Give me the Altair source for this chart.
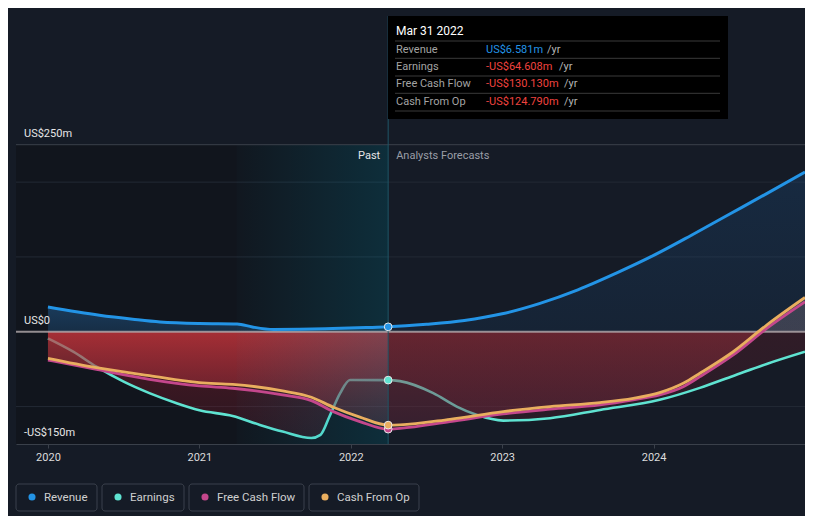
import altair as alt
import pandas as pd

# ---------------- data ----------------
SERIES = ["Revenue", "Earnings", "Free Cash Flow", "Cash From Op"]
COLORS = ["#2394e6", "#5fe3d1", "#c4478c", "#e9ae5f"]

MARK_X = 2022.247          # Mar 31 2022
X_MIN, X_MAX = 2019.789, 2025.0
Y_MIN, Y_MAX = -150, 422
YEAR_TICKS = [2020, 2021, 2022, 2023, 2024]
GRID_Y = [200, 100, -100]
Y_LABEL_VALUES = [250, 0, -150]
Y_LABELS = ["US$250m", "US$0", "-US$150m"]

rev_past_x = [2020.0, 2020.34, 2020.56, 2020.74, 2021.0, 2021.25, 2021.35, 2021.49, 2021.66, 2021.88, 2022.10, 2022.247]
rev_past_y = [33, 22, 16.7, 13, 11, 10.5, 6.4, 3, 3.3, 4.3, 5.6, 6.581]
rev_fc_x = [2022.247, 2022.5, 2022.75, 2023.0, 2023.25, 2023.5, 2023.75, 2024.0, 2024.25, 2024.5, 2024.75, 2025.0]
rev_fc_y = [6.581, 10, 15, 24, 38, 56, 78, 102, 129, 157, 185, 213.5]

earn_past_x = [2020.0, 2020.167, 2020.32, 2020.50, 2020.67, 2020.85, 2021.0, 2021.22, 2021.40, 2021.55, 2021.74, 2021.80, 2021.86, 2021.93, 2021.995, 2022.247]
earn_past_y = [-8.9, -26.7, -46.7, -66.7, -82, -95.5, -105, -112.5, -124.5, -133.4, -142, -137.8, -113, -82, -64.4, -64.608]
earn_fc_x = [2022.247, 2022.325, 2022.545, 2022.70, 2022.83, 2023.007, 2023.316, 2023.646, 2024.04, 2024.306, 2024.526, 2024.747, 2025.0]
earn_fc_y = [-64.608, -66, -82, -100, -111, -118.7, -115.5, -104.5, -91, -75, -59, -43, -26.7]

cf_past_x = [2020.0, 2020.32, 2020.67, 2021.0, 2021.22, 2021.55, 2021.74, 2021.885, 2022.06, 2022.247]
fcf_past_y = [-37.8, -50.2, -63.5, -72.4, -75.5, -84.4, -92, -106.7, -120, -130.13]
cfo_past_y = [-35.5, -48, -58.7, -68, -70.3, -79, -87.5, -100.9, -114, -124.79]
cf_fc_x = [2022.247, 2022.325, 2022.655, 2023.007, 2023.316, 2023.646, 2023.866, 2024.04, 2024.196, 2024.306, 2024.526, 2024.747, 2025.0]
fcf_fc_y = [-130.13, -129, -120, -109.8, -103.5, -97.8, -91, -84.4, -73.4, -60, -31, 4.5, 40]
cfo_fc_y = [-124.79, -124.5, -117, -106.7, -100, -94.7, -89, -81.4, -68.9, -55.5, -26.7, 9, 45.9]

TIP_DATE = "Mar 31 2022"
TIP_VALUES = ["US$6.581m", "-US$64.608m", "-US$130.130m", "-US$124.790m"]
TIP_VALUE_COLORS = ["#2394e6", "#f0433f", "#f0433f", "#f0433f"]
TIP_UNIT = "/yr"
PAST_LABEL = "Past"
FORECAST_LABEL = "Analysts Forecasts"

FONT = "Roboto"
W, H = 789, 428

# ---------------- helpers ----------------
xs = alt.Scale(domain=[X_MIN, X_MAX], nice=False, zero=False)
ys = alt.Scale(domain=[Y_MIN, Y_MAX], nice=False, zero=False)
xaxis = alt.Axis(values=YEAR_TICKS, format="d", title=None, grid=False,
                 labelColor="#dcdcdc", labelFontSize=11, labelFont=FONT,
                 tickColor="#3a404a", tickSize=4, domainColor="#3a404a",
                 labelPadding=3)


def X(f="x"):
    return alt.X(f"{f}:Q", scale=xs, axis=xaxis)


def Y(f="y"):
    return alt.Y(f"{f}:Q", scale=ys, axis=None)


def df(xv, yv):
    return pd.DataFrame({"x": xv, "y": yv})


def vgrad(stops):
    return alt.LinearGradient(gradient="linear", x1=0, x2=0, y1=0, y2=1,
                              stops=[alt.GradientStop(offset=o, color=c) for o, c in stops])


def hgrad(stops):
    return alt.LinearGradient(gradient="linear", x1=0, x2=1, y1=0, y2=0,
                              stops=[alt.GradientStop(offset=o, color=c) for o, c in stops])


def area(data, color):
    return alt.Chart(data).mark_area(color=color, interpolate="monotone").encode(
        x=X(), y=Y(), y2=alt.Y2("z:Q"))


def with_zero(d):
    d = d.copy()
    d["z"] = 0
    return d


def line(data, color, w=2.6):
    return alt.Chart(data).mark_line(color=color, strokeWidth=w, interpolate="monotone").encode(x=X(), y=Y())


layers = []

# background zones
past_bg = pd.DataFrame({"x": [X_MIN], "x2": [MARK_X], "y": [250], "y2": [-150]})
layers.append(alt.Chart(past_bg).mark_rect(color="#11151d").encode(
    x=X(), x2=alt.X2("x2:Q"), y=Y(), y2=alt.Y2("y2:Q")))

# faint grid
layers.append(alt.Chart(pd.DataFrame({"y": GRID_Y})).mark_rule(color="#232a35", strokeWidth=1).encode(y=Y()))

# earnings fill
layers.append(area(with_zero(df(earn_past_x, earn_past_y)),
                   vgrad([(0, "rgba(150,30,45,0.45)"), (1, "rgba(110,25,40,0.28)")])))
layers.append(area(with_zero(df(earn_fc_x, earn_fc_y)),
                   vgrad([(0, "rgba(110,30,42,0.30)"), (1, "rgba(100,30,45,0.26)")])))

# earnings line (under cash flow fill)
earn_all = df(earn_past_x + earn_fc_x[1:], earn_past_y + earn_fc_y[1:])
layers.append(line(earn_all, COLORS[1]))

# cash from op fill
layers.append(area(with_zero(df(cf_past_x, cfo_past_y)),
                   vgrad([(0, "rgba(200,55,60,0.72)"), (1, "rgba(140,40,55,0.35)")])))
layers.append(area(with_zero(df(cf_fc_x, cfo_fc_y)),
                   vgrad([(0, "rgba(125,105,112,0.42)"), (0.266, "rgba(125,105,112,0.42)"),
                          (0.272, "rgba(165,48,58,0.46)"), (1, "rgba(115,40,62,0.36)")])))

# revenue fill
layers.append(area(with_zero(df(rev_past_x, rev_past_y)),
                   vgrad([(0, "rgba(40,120,190,0.38)"), (1, "rgba(40,120,190,0.25)")])))
layers.append(area(with_zero(df(rev_fc_x, rev_fc_y)),
                   vgrad([(0, "rgba(30,95,160,0.22)"), (1, "rgba(30,95,160,0.12)")])))

# highlight of the last past year
hl = pd.DataFrame({"x": [MARK_X - 1.0], "x2": [MARK_X], "y": [250], "y2": [-150]})
layers.append(alt.Chart(hl).mark_rect(color=hgrad([(0, "rgba(0,140,170,0.02)"), (1, "rgba(0,140,170,0.21)")])).encode(
    x=X(), x2=alt.X2("x2:Q"), y=Y(), y2=alt.Y2("y2:Q")))

# zero line and top line
layers.append(alt.Chart(pd.DataFrame({"y": [0]})).mark_rule(color="#b4abae", strokeWidth=2, opacity=0.8).encode(y=Y()))
layers.append(alt.Chart(pd.DataFrame({"y": [250]})).mark_rule(color="#3a404a", strokeWidth=1).encode(y=Y()))

# vertical marker
layers.append(alt.Chart(pd.DataFrame({"x": [MARK_X]})).mark_rule(color="#1f5567", strokeWidth=1).encode(x=X()))

# other lines
layers.append(line(df(cf_past_x + cf_fc_x[1:], fcf_past_y + fcf_fc_y[1:]), COLORS[2], 2.8))
layers.append(line(df(cf_past_x + cf_fc_x[1:], cfo_past_y + cfo_fc_y[1:]), COLORS[3], 2.8))
layers.append(line(df(rev_past_x + rev_fc_x[1:], rev_past_y + rev_fc_y[1:]), COLORS[0], 3))

# dots at Mar 31 2022
dot_vals = [rev_past_y[-1], earn_past_y[-1], fcf_past_y[-1], cfo_past_y[-1]]
for i in [0, 1, 2, 3]:
    layers.append(alt.Chart(df([MARK_X], [dot_vals[i]])).mark_circle(
        color=COLORS[i], opacity=1, size=60, stroke="#e8e8e8", strokeWidth=1).encode(x=X(), y=Y()))

# y labels
ylab = pd.DataFrame({"y": Y_LABEL_VALUES, "t": Y_LABELS})
layers.append(alt.Chart(ylab).mark_text(align="left", baseline="middle", dy=-11, color="#e6e6e6",
                                        fontSize=11, font=FONT).encode(x=alt.value(8), y=Y(), text="t:N"))

# past / forecast labels
pf = pd.DataFrame({"x": [MARK_X]})
layers.append(alt.Chart(pf).mark_text(align="right", baseline="middle", dx=-8, color="#e6e6e6",
                                      fontSize=11, font=FONT, text=PAST_LABEL).encode(x=X(), y=alt.value(140)))
layers.append(alt.Chart(pf).mark_text(align="left", baseline="middle", dx=8, color="#9a9ea6",
                                      fontSize=11, font=FONT, text=FORECAST_LABEL).encode(x=X(), y=alt.value(140)))

# tooltip box
one = pd.DataFrame({"k": [0]})
layers.append(alt.Chart(one).mark_rect(color="#000000").encode(
    x=alt.value(372), x2=alt.value(712), y=alt.value(0), y2=alt.value(103)))
layers.append(alt.Chart(one).mark_text(align="left", baseline="middle", color="#ffffff", fontSize=12,
                                       font=FONT, text=TIP_DATE).encode(x=alt.value(380), y=alt.value(15)))
for sy in [25, 42.3, 60, 77.3, 95]:
    layers.append(alt.Chart(one).mark_rule(color="#3a3a3a", strokeWidth=1).encode(
        x=alt.value(379), x2=alt.value(704), y=alt.value(sy)))
row_y = [33.5, 50.7, 68.3, 85.7]
unit_x = [531, 543, 548, 548]
for i in range(4):
    layers.append(alt.Chart(one).mark_text(align="left", baseline="middle", color="#a3a3a3", fontSize=11,
                                           font=FONT, text=SERIES[i]).encode(x=alt.value(380), y=alt.value(row_y[i])))
    layers.append(alt.Chart(one).mark_text(align="left", baseline="middle", color=TIP_VALUE_COLORS[i], fontSize=11,
                                           font=FONT, text=TIP_VALUES[i]).encode(x=alt.value(470), y=alt.value(row_y[i])))
    layers.append(alt.Chart(one).mark_text(align="left", baseline="middle", color="#b5b5b5", fontSize=11,
                                           font=FONT, text=TIP_UNIT).encode(x=alt.value(unit_x[i]), y=alt.value(row_y[i])))

# legend
box_x = [0, 86, 173, 293]
box_x2 = [81, 168, 288, 403]
for i in range(4):
    layers.append(alt.Chart(one).mark_rect(fillOpacity=0, stroke="#3b414c", strokeWidth=1, cornerRadius=3).encode(
        x=alt.value(box_x[i]), x2=alt.value(box_x2[i]), y=alt.value(468), y2=alt.value(495)))
    layers.append(alt.Chart(one).mark_circle(color=COLORS[i], opacity=1, size=50).encode(
        x=alt.value(box_x[i] + 16), y=alt.value(481)))
    layers.append(alt.Chart(one).mark_text(align="left", baseline="middle", color="#d0d0d0", fontSize=11.5,
                                           font=FONT, text=SERIES[i]).encode(x=alt.value(box_x[i] + 28), y=alt.value(481.5)))

chart = alt.layer(*layers).properties(
    width=W, height=H,
    padding={"left": 8, "top": 8, "right": 0, "bottom": 72},
    autosize="none",
    background="#151b26",
).configure_view(strokeWidth=0)

chart.save("out.html", embed_options={"renderer": "svg", "actions": False})
